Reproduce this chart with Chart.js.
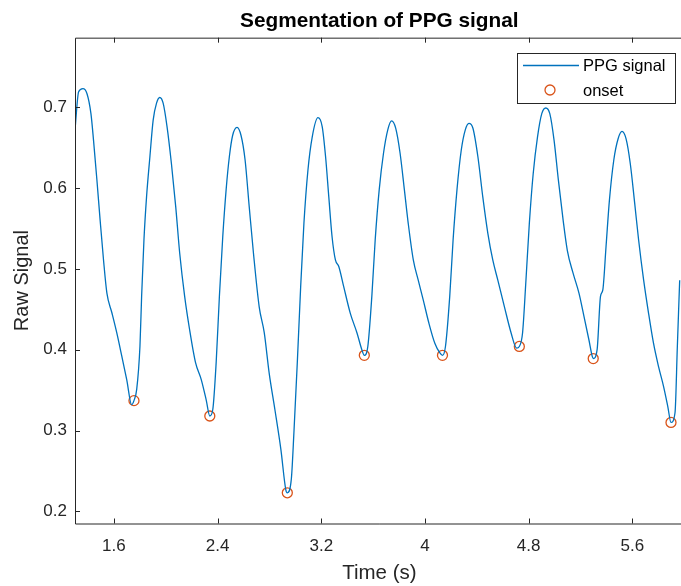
<!DOCTYPE html>
<html lang="en">
<head>
  <meta charset="UTF-8">
  <title>Segmentation of PPG signal</title>
  <style>
    html, body { margin: 0; padding: 0; background: #fff; overflow: hidden; }
    .wrap { width: 690px; height: 586px; }
  </style>
</head>
<body>
  <div class="wrap"><canvas id="ppgChart" width="690" height="586"></canvas></div>
<script src="https://cdn.jsdelivr.net/npm/chart.js@4.4.0/dist/chart.umd.min.js"></script>
<script>
// PPG trace
const timeS = [1.300,1.328,1.361,1.392,1.423,1.443,1.469,1.494,1.520,1.546,
  1.584,1.622,1.661,1.699,1.737,1.755,1.776,1.801,1.814,1.832,
  1.852,1.878,1.903,1.929,1.954,1.980,2.010,2.044,2.077,2.108,
  2.146,2.184,2.230,2.274,2.312,2.340,2.363,2.389,2.414,2.440,
  2.466,2.491,2.516,2.550,2.581,2.612,2.644,2.677,2.721,2.760,
  2.798,2.842,2.888,2.926,2.938,2.969,2.990,3.015,3.041,3.066,
  3.097,3.130,3.174,3.207,3.233,3.258,3.283,3.309,3.335,3.373,
  3.424,3.475,3.513,3.532,3.559,3.590,3.616,3.647,3.680,3.713,
  3.743,3.774,3.808,3.841,3.871,3.910,3.948,3.986,4.030,4.076,
  4.115,4.135,4.158,4.191,4.217,4.247,4.280,4.311,4.339,4.370,
  4.408,4.446,4.485,4.523,4.562,4.613,4.664,4.707,4.728,4.753,
  4.779,4.805,4.835,4.868,4.901,4.932,4.963,4.996,5.029,5.066,
  5.098,5.142,5.188,5.227,5.265,5.290,5.298,5.328,5.354,5.372,
  5.397,5.423,5.457,5.490,5.520,5.551,5.584,5.618,5.648,5.687,
  5.725,5.763,5.802,5.840,5.873,5.898,5.929,5.947,5.965];
const rawSignal = [0.672,0.719,0.723,0.717,0.692,0.659,0.610,0.560,0.511,0.470,
  0.446,0.421,0.392,0.363,0.332,0.337,0.351,0.404,0.466,0.536,
  0.589,0.639,0.684,0.705,0.712,0.705,0.676,0.630,0.577,0.519,
  0.466,0.425,0.384,0.363,0.338,0.318,0.326,0.384,0.466,0.540,
  0.598,0.639,0.665,0.675,0.665,0.635,0.577,0.519,0.453,0.421,
  0.371,0.326,0.277,0.227,0.223,0.240,0.301,0.384,0.478,0.556,
  0.622,0.663,0.687,0.676,0.639,0.589,0.540,0.511,0.503,0.478,
  0.445,0.421,0.400,0.393,0.404,0.466,0.536,0.598,0.643,0.672,
  0.683,0.674,0.643,0.598,0.556,0.511,0.486,0.462,0.433,0.408,
  0.396,0.393,0.404,0.466,0.536,0.598,0.647,0.672,0.680,0.674,
  0.639,0.589,0.544,0.511,0.486,0.453,0.421,0.402,0.404,0.421,
  0.486,0.556,0.618,0.663,0.692,0.699,0.692,0.659,0.610,0.560,
  0.523,0.495,0.470,0.441,0.412,0.392,0.389,0.400,0.466,0.474,
  0.528,0.585,0.635,0.661,0.670,0.661,0.630,0.581,0.536,0.486,
  0.445,0.408,0.379,0.355,0.330,0.310,0.322,0.404,0.486];

const onsetTime  = [1.755, 2.340, 2.938, 3.532, 4.135, 4.728, 5.298, 5.898];
const onsetValue = [0.337, 0.318, 0.223, 0.393, 0.393, 0.404, 0.389, 0.310];

const xTicks = [1.6, 2.4, 3.2, 4, 4.8, 5.6];
const yTicks = [0.2, 0.3, 0.4, 0.5, 0.6, 0.7];
const seriesNames = ['PPG signal', 'onset'];

const FONT = "'Liberation Sans', Arial, Helvetica, sans-serif";
const AXIS = '#262626';
const BLUE = '#0072BD';
const ORANGE = '#D95319';

// matlab style box with inward ticks
const boxPlugin = {
  id: 'box',
  afterDraw(chart) {
    const {ctx, chartArea: a, scales: {x, y}} = chart;
    ctx.save();
    ctx.strokeStyle = AXIS;
    ctx.lineWidth = 1;
    ctx.beginPath();
    ctx.rect(a.left + 0.5, a.top + 0.5, a.right - a.left, a.bottom - a.top);
    x.ticks.forEach(t => {
      const px = Math.round(x.getPixelForValue(t.value)) + 0.5;
      ctx.moveTo(px, a.bottom); ctx.lineTo(px, a.bottom - 5);
      ctx.moveTo(px, a.top); ctx.lineTo(px, a.top + 5);
    });
    y.ticks.forEach(t => {
      const py = Math.round(y.getPixelForValue(t.value)) + 0.5;
      ctx.moveTo(a.left, py); ctx.lineTo(a.left + 5, py);
    });
    ctx.stroke();

    // legend
    const lx = 517, ly = 53, lw = 158, lh = 50;
    ctx.fillStyle = '#fff';
    ctx.fillRect(lx, ly, lw, lh);
    ctx.strokeRect(lx + 0.5, ly + 0.5, lw, lh);
    ctx.strokeStyle = BLUE;
    ctx.lineWidth = 1.4;
    ctx.beginPath();
    ctx.moveTo(523, 65.5); ctx.lineTo(579, 65.5);
    ctx.stroke();
    ctx.strokeStyle = ORANGE;
    ctx.lineWidth = 1.3;
    ctx.beginPath();
    ctx.arc(550, 90, 5, 0, Math.PI * 2);
    ctx.stroke();
    ctx.fillStyle = '#000';
    ctx.font = '16.5px ' + FONT;
    ctx.textBaseline = 'middle';
    ctx.fillText(seriesNames[0], 583, 66);
    ctx.fillText(seriesNames[1], 583, 91);
    ctx.restore();
  }
};

new Chart(document.getElementById('ppgChart'), {
  type: 'line',
  data: {
    datasets: [{
      label: seriesNames[0],
      data: timeS.map((t, i) => ({x: t, y: rawSignal[i]})),
      borderColor: BLUE,
      borderWidth: 1.3,
      pointRadius: 0,
      cubicInterpolationMode: 'monotone',
      fill: false
    }, {
      label: seriesNames[1],
      data: onsetTime.map((t, i) => ({x: t, y: onsetValue[i]})),
      showLine: false,
      pointStyle: 'circle',
      pointRadius: 5,
      pointBorderWidth: 1.3,
      pointBorderColor: ORANGE,
      pointBackgroundColor: 'rgba(0,0,0,0)'
    }]
  },
  options: {
    responsive: false,
    animation: false,
    layout: { padding: { left: 0, right: 3, top: 0, bottom: 0 } },
    plugins: {
      legend: { display: false },
      tooltip: { enabled: false },
      title: {
        display: true,
        fullSize: false,
        text: 'Segmentation of PPG signal',
        color: '#000',
        font: { family: FONT, size: 20.8, weight: 'bold', lineHeight: 1.2 },
        padding: { top: 9, bottom: 3.7 }
      }
    },
    scales: {
      x: {
        type: 'linear',
        min: 1.3,
        max: 5.996,
        afterBuildTicks: s => { s.ticks = xTicks.map(v => ({value: v})); },
        afterFit: s => { s.height = 62.5; },
        grid: { display: false, drawTicks: false },
        border: { display: false },
        ticks: {
          color: AXIS,
          padding: 12.5,
          maxRotation: 0,
          autoSkip: false,
          font: { family: FONT, size: 17 },
          callback: v => String(v)
        },
        title: {
          display: true,
          text: 'Time (s)',
          color: AXIS,
          font: { family: FONT, size: 20.5, lineHeight: 1.2 },
          padding: { top: 0, bottom: 0 }
        }
      },
      y: {
        type: 'linear',
        min: 0.185,
        max: 0.786,
        afterBuildTicks: s => { s.ticks = yTicks.map(v => ({value: v})); },
        afterFit: s => { s.width = 75; },
        grid: { display: false, drawTicks: false },
        border: { display: false },
        ticks: {
          color: AXIS,
          padding: 8,
          autoSkip: false,
          font: { family: FONT, size: 17 },
          callback: v => v.toFixed(1)
        },
        title: {
          display: true,
          text: 'Raw Signal',
          color: AXIS,
          font: { family: FONT, size: 20, lineHeight: 1.2 },
          padding: { top: 10, bottom: 0 }
        }
      }
    }
  },
  plugins: [boxPlugin]
});
</script>
</body>
</html>
